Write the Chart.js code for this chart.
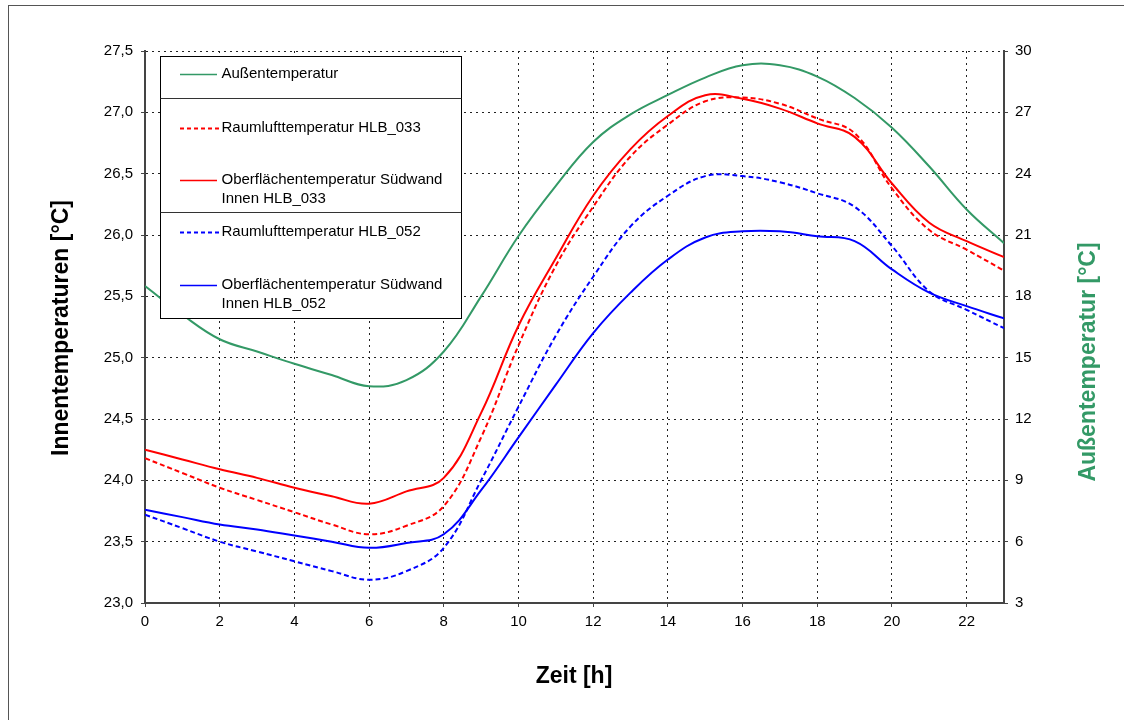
<!DOCTYPE html>
<html lang="de">
<head>
<meta charset="utf-8">
<title>Innentemperaturen</title>
<script src="https://cdn.jsdelivr.net/npm/chart.js@4.4.0/dist/chart.umd.min.js"></script>
<style>
  html, body { margin: 0; padding: 0; background: #fff; }
  #wrap { width: 1124px; height: 720px; position: relative; }
</style>
</head>
<body>
<div id="wrap"><canvas id="tempChart" width="1124" height="720"></canvas></div>
<script>
// --- data ---
const hours = [0, 1, 2, 3, 4, 5, 6, 7, 8, 9, 10, 11, 12, 13, 14, 15, 16, 17, 18, 19, 20, 21, 22, 23];
const xTicks = [0, 2, 4, 6, 8, 10, 12, 14, 16, 18, 20, 22];
const leftTicks = [23.0, 23.5, 24.0, 24.5, 25.0, 25.5, 26.0, 26.5, 27.0, 27.5];
const rightTicks = [3, 6, 9, 12, 15, 18, 21, 24, 27, 30];

// Außentemperatur (right axis)
const aussen = [18.5, 17.1, 15.9, 15.3, 14.7, 14.15, 13.6, 13.9, 15.3, 18.0, 20.95, 23.4,
                25.55, 26.9, 27.85, 28.7, 29.3, 29.3, 28.75, 27.7, 26.25, 24.35, 22.25, 20.6];
// Innentemperaturen (left axis)
const raumluft033 = [24.18, 24.06, 23.94, 23.84, 23.74, 23.64, 23.56, 23.63, 23.79, 24.35, 25.1, 25.75,
                     26.23, 26.64, 26.90, 27.09, 27.12, 27.07, 26.95, 26.83, 26.38, 26.04, 25.88, 25.71];
const oberflaeche033 = [24.25, 24.17, 24.09, 24.02, 23.94, 23.87, 23.81, 23.91, 24.02, 24.55, 25.26, 25.81,
                        26.32, 26.70, 26.97, 27.14, 27.11, 27.03, 26.91, 26.80, 26.42, 26.10, 25.95, 25.82];
const raumluft052 = [23.72, 23.61, 23.50, 23.42, 23.34, 23.26, 23.19, 23.26, 23.45, 24.0, 24.6, 25.18,
                     25.66, 26.07, 26.32, 26.48, 26.48, 26.43, 26.34, 26.23, 25.91, 25.54, 25.39, 25.24];
const oberflaeche052 = [23.76, 23.70, 23.64, 23.60, 23.55, 23.50, 23.45, 23.49, 23.56, 23.92, 24.35, 24.78,
                        25.20, 25.53, 25.80, 25.98, 26.03, 26.03, 25.99, 25.95, 25.72, 25.53, 25.42, 25.32];

const GREEN = '#339966';
const RED = '#ff0000';
const BLUE = '#0000ff';
const FONT = "'Liberation Sans', Arial, sans-serif";

const toPoints = vals => hours.map((h, i) => ({ x: h, y: vals[i] }));

// legend entries: label lines, colour, dashed?
const legendItems = [
    { lines: ['Außentemperatur'], color: GREEN, dash: [] },
    { lines: ['Raumlufttemperatur HLB_033'], color: RED, dash: [4, 3] },
    { lines: ['Oberflächentemperatur Südwand', 'Innen HLB_033'], color: RED, dash: [] },
    { lines: ['Raumlufttemperatur HLB_052'], color: BLUE, dash: [4, 3] },
    { lines: ['Oberflächentemperatur Südwand', 'Innen HLB_052'], color: BLUE, dash: [] }
];

// --- frame, axis titles and the boxed legend ---
const decorPlugin = {
    id: 'decor',
    afterDraw(chart) {
        const ctx = chart.ctx;
        ctx.save();

        // outer frame (only left/top visible in the crop)
        ctx.strokeStyle = '#555';
        ctx.lineWidth = 1;
        ctx.strokeRect(8.5, 5.5, 1400, 1400);

        // axis titles
        ctx.font = 'bold 23px ' + FONT;
        ctx.textAlign = 'center';
        ctx.textBaseline = 'middle';
        ctx.fillStyle = '#000';
        ctx.fillText('Zeit [h]', 574, 677);

        ctx.save();
        ctx.translate(61.5, 328);
        ctx.rotate(-Math.PI / 2);
        ctx.fillText('Innentemperaturen [°C]', 0, 0);
        ctx.restore();

        ctx.save();
        ctx.fillStyle = GREEN;
        ctx.translate(1089, 362);
        ctx.rotate(-Math.PI / 2);
        ctx.fillText('Außentemperatur [°C]', 0, 0);
        ctx.restore();

        // legend box
        const lx = 160.5, ly = 56.5, lw = 301, lh = 262;
        ctx.fillStyle = '#fff';
        ctx.fillRect(lx, ly, lw, lh);
        ctx.strokeStyle = '#000';
        ctx.lineWidth = 1;
        ctx.strokeRect(lx, ly, lw, lh);
        ctx.strokeStyle = '#333';
        [98.5, 212.5].forEach(y => {
            ctx.beginPath();
            ctx.moveTo(lx, y);
            ctx.lineTo(lx + lw, y);
            ctx.stroke();
        });

        const rowY = [74, 128, 180, 232, 285];
        ctx.font = '15px ' + FONT;
        ctx.textAlign = 'left';
        legendItems.forEach((item, i) => {
            const y = rowY[i];
            ctx.strokeStyle = item.color;
            ctx.lineWidth = item.dash.length ? 2 : 1.5;
            ctx.setLineDash(item.dash);
            ctx.beginPath();
            ctx.moveTo(180, y + 0.5);
            ctx.lineTo(item.dash.length ? 220 : 217, y + 0.5);
            ctx.stroke();
            ctx.setLineDash([]);
            ctx.fillStyle = '#000';
            item.lines.forEach((t, k) => ctx.fillText(t, 221.5, y + k * 18.5));
        });

        ctx.restore();
    }
};

const tickFont = { family: FONT, size: 15 };

new Chart(document.getElementById('tempChart'), {
    type: 'line',
    data: {
        datasets: [
            { label: 'Außentemperatur', data: toPoints(aussen), yAxisID: 'y1',
              borderColor: GREEN, borderWidth: 2 },
            { label: 'Raumlufttemperatur HLB_033', data: toPoints(raumluft033), yAxisID: 'y',
              borderColor: RED, borderWidth: 2, borderDash: [5, 3] },
            { label: 'Oberflächentemperatur Südwand Innen HLB_033', data: toPoints(oberflaeche033), yAxisID: 'y',
              borderColor: RED, borderWidth: 2 },
            { label: 'Raumlufttemperatur HLB_052', data: toPoints(raumluft052), yAxisID: 'y',
              borderColor: BLUE, borderWidth: 2, borderDash: [5, 3] },
            { label: 'Oberflächentemperatur Südwand Innen HLB_052', data: toPoints(oberflaeche052), yAxisID: 'y',
              borderColor: BLUE, borderWidth: 2 }
        ]
    },
    options: {
        responsive: false,
        animation: false,
        devicePixelRatio: 1,
        layout: { padding: { top: 51, left: 0, right: 0, bottom: 0 } },
        elements: {
            point: { radius: 0, hoverRadius: 0 },
            line: { tension: 0.4, fill: false }
        },
        plugins: {
            legend: { display: false },
            tooltip: { enabled: false }
        },
        scales: {
            x: {
                type: 'linear',
                min: 0,
                max: 23,
                afterBuildTicks: s => { s.ticks = xTicks.map(v => ({ value: v })); },
                afterFit: s => { s.height = 117; },
                ticks: { font: tickFont, color: '#000', padding: 6, maxRotation: 0 },
                grid: { color: '#222', lineWidth: 1, tickLength: 4, tickColor: '#444' },
                border: { color: '#444', width: 2, dash: [2, 4] }
            },
            y: {
                position: 'left',
                min: 23,
                max: 27.5,
                afterBuildTicks: s => { s.ticks = leftTicks.map(v => ({ value: v })); },
                afterFit: s => { s.width = 145; },
                ticks: {
                    font: tickFont, color: '#000', padding: 8,
                    callback: v => v.toFixed(1).replace('.', ',')
                },
                grid: { color: '#222', lineWidth: 1, tickLength: 4, tickColor: '#444' },
                border: { color: '#444', width: 2, dash: [2, 4] }
            },
            y1: {
                position: 'right',
                min: 3,
                max: 30,
                afterBuildTicks: s => { s.ticks = rightTicks.map(v => ({ value: v })); },
                afterFit: s => { s.width = 120; },
                ticks: { font: tickFont, color: '#000', padding: 7 },
                grid: { drawOnChartArea: false, tickLength: 4, tickColor: '#444' },
                border: { color: '#444', width: 2 }
            }
        }
    },
    plugins: [decorPlugin]
});
</script>
</body>
</html>
